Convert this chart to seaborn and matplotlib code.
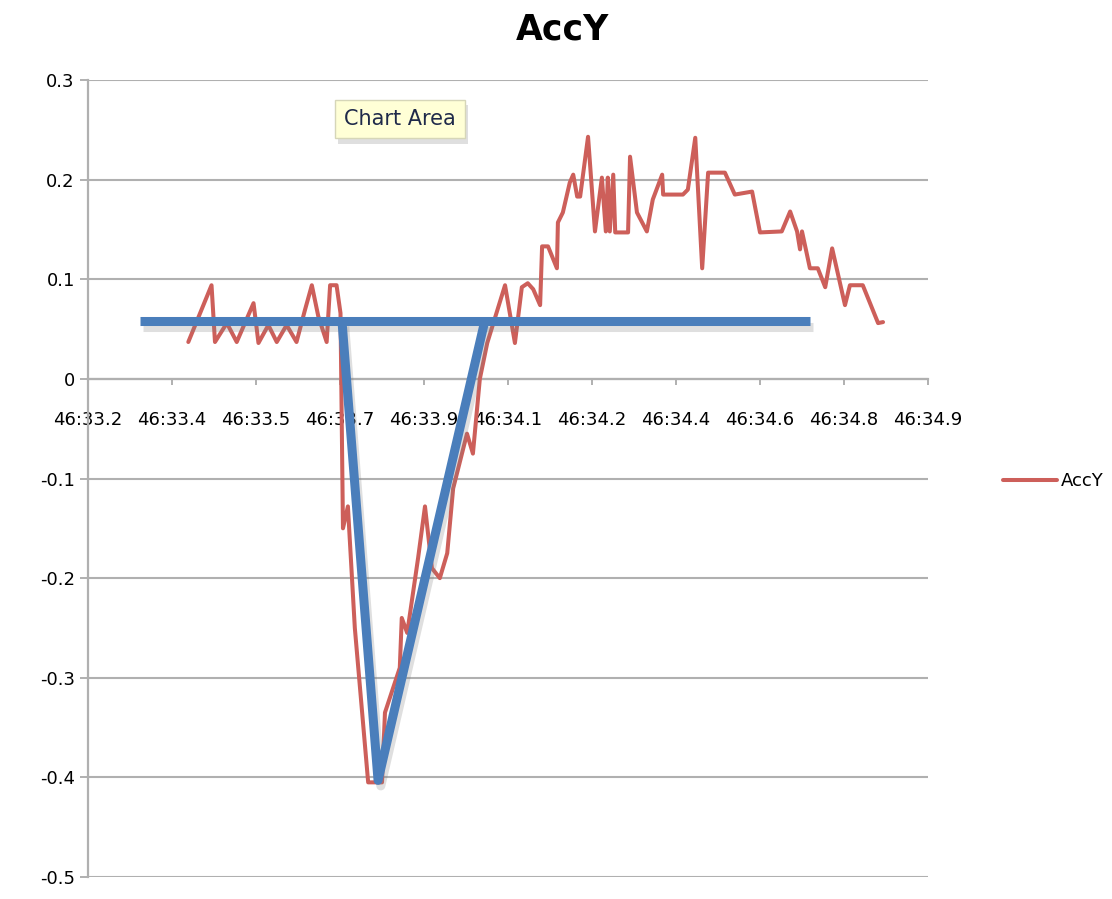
import numpy as np
import pandas as pd
import matplotlib
matplotlib.use("Agg")
import matplotlib.pyplot as plt
import matplotlib.patheffects as pe
import seaborn as sns

# ---- data ----
time_s = [33.403, 33.450, 33.457, 33.481, 33.501, 33.535, 33.545, 33.565, 33.582,
          33.602, 33.622, 33.639, 33.653, 33.666, 33.683, 33.690, 33.703, 33.711,
          33.716, 33.726, 33.740, 33.767, 33.795, 33.801, 33.831, 33.835, 33.846,
          33.868, 33.882, 33.896, 33.912, 33.927, 33.939, 33.967, 33.979, 33.993,
          34.008, 34.044, 34.064, 34.078, 34.090, 34.101, 34.115, 34.119, 34.131,
          34.149, 34.151, 34.161, 34.175, 34.182, 34.190, 34.196, 34.212, 34.226,
          34.240, 34.248, 34.252, 34.256, 34.263, 34.267, 34.293, 34.297, 34.311,
          34.331, 34.343, 34.362, 34.364, 34.404, 34.414, 34.429, 34.443, 34.455,
          34.489, 34.509, 34.544, 34.560, 34.604, 34.621, 34.635, 34.641, 34.645,
          34.661, 34.677, 34.692, 34.706, 34.732, 34.742, 34.768, 34.799, 34.809]
acc_y = [0.037, 0.094, 0.037, 0.056, 0.037, 0.076, 0.036, 0.054, 0.037,
         0.054, 0.037, 0.069, 0.094, 0.063, 0.037, 0.094, 0.094, 0.066,
         -0.150, -0.128, -0.250, -0.405, -0.405, -0.335, -0.290, -0.240, -0.255,
         -0.180, -0.128, -0.190, -0.200, -0.175, -0.110, -0.055, -0.075, 0.000,
         0.036, 0.094, 0.036, 0.092, 0.096, 0.090, 0.074, 0.133, 0.133,
         0.111, 0.157, 0.167, 0.197, 0.205, 0.183, 0.183, 0.243, 0.148,
         0.202, 0.148, 0.202, 0.148, 0.205, 0.147, 0.147, 0.223, 0.167,
         0.148, 0.180, 0.205, 0.185, 0.185, 0.190, 0.242, 0.111, 0.207,
         0.207, 0.185, 0.188, 0.147, 0.148, 0.168, 0.148, 0.130, 0.148,
         0.111, 0.111, 0.092, 0.131, 0.074, 0.094, 0.094, 0.056, 0.057]

# hand-drawn blue annotation overlay
overlay_h_x = [33.305, 34.661]
overlay_h_y = [0.058, 0.058]
overlay_v_x = [33.714, 33.787, 34.003]
overlay_v_y = [0.058, -0.403, 0.058]

x_tick_labels = ["46:33.2", "46:33.4", "46:33.5", "46:33.7", "46:33.9", "46:34.1",
                 "46:34.2", "46:34.4", "46:34.6", "46:34.8", "46:34.9"]
y_tick_values = [0.3, 0.2, 0.1, 0.0, -0.1, -0.2, -0.3, -0.4, -0.5]
y_tick_labels = ["0.3", "0.2", "0.1", "0", "-0.1", "-0.2", "-0.3", "-0.4", "-0.5"]

df = pd.DataFrame({"time": time_s, "AccY": acc_y})

sns.set_style("white")
plt.rcParams["font.family"] = ["DejaVu Sans"]
plt.rcParams["axes.unicode_minus"] = False
plt.rcParams["text.color"] = "black"

W, H = 1112, 899
fig = plt.figure(figsize=(W / 100, H / 100), dpi=100)
ax = fig.add_axes([88 / W, 22 / H, 840 / W, 797 / H])

red = "#cd5f5a"
blue = "#4a7ebb"
grey = "#b0b0b0"

sns.lineplot(data=df, x="time", y="AccY", sort=False, estimator=None,
             color=red, linewidth=2.9, ax=ax, label="AccY", zorder=3,
             solid_joinstyle="round", solid_capstyle="round")

shadow = [pe.SimpleLineShadow(offset=(2, -4), shadow_color="#808080", alpha=0.25),
          pe.Normal()]
ax.plot(overlay_h_x, overlay_h_y, color=blue, lw=6.5, solid_capstyle="butt",
        zorder=4, path_effects=shadow)
ax.plot(overlay_v_x, overlay_v_y, color=blue, lw=6.5, solid_joinstyle="round",
        solid_capstyle="butt", zorder=4, path_effects=shadow)

ax.set_xlim(33.2, 34.9)
ax.set_ylim(-0.5, 0.3)
ax.set_axisbelow(True)

xt = np.linspace(33.2, 34.9, len(x_tick_labels))
ax.set_xticks(xt)
ax.set_xticklabels(x_tick_labels)
ax.set_yticks(y_tick_values)
ax.set_yticklabels(y_tick_labels)
ax.set_xlabel("")
ax.set_ylabel("")

ax.grid(axis="y", color=grey, lw=1.5)
ax.grid(axis="x", visible=False)

for s in ["top", "right"]:
    ax.spines[s].set_visible(False)
ax.spines["left"].set_color(grey)
ax.spines["left"].set_linewidth(1.6)
ax.spines["bottom"].set_position(("data", 0))
ax.spines["bottom"].set_color(grey)
ax.spines["bottom"].set_linewidth(1.6)
ax.spines["bottom"].set_zorder(1)
ax.spines["left"].set_zorder(1)

ax.tick_params(axis="y", direction="out", length=6, width=1.4, color=grey,
               labelsize=13, pad=3.5, labelcolor="black", left=True)
ax.tick_params(axis="x", direction="out", length=4.3, width=1.4, color=grey,
               labelsize=13, pad=19, labelcolor="black", bottom=True)

fig.text(563 / W, 1 - 30 / H, "AccY", ha="center", va="center",
         fontsize=25, fontweight="bold", color="black")

leg = ax.legend(loc="center left", bbox_to_anchor=(1003 / W, 1 - 481 / H),
                bbox_transform=fig.transFigure, frameon=False, handlelength=3,
                handletextpad=0.2, borderpad=0, borderaxespad=0, fontsize=13)
for t in leg.get_texts():
    t.set_color("black")

tip = fig.text(400 / W, 1 - 119 / H, "Chart Area", ha="center", va="center",
               fontsize=15, color="#1f2a4a", zorder=10,
               bbox=dict(boxstyle="square,pad=0.45", fc="#ffffd6", ec="#d6d6b8", lw=1))
tip.get_bbox_patch().set_path_effects(
    [pe.SimplePatchShadow(offset=(2, -4), shadow_rgbFace="#808080", alpha=0.25), pe.Normal()])

fig.savefig("out.png", dpi=100)
